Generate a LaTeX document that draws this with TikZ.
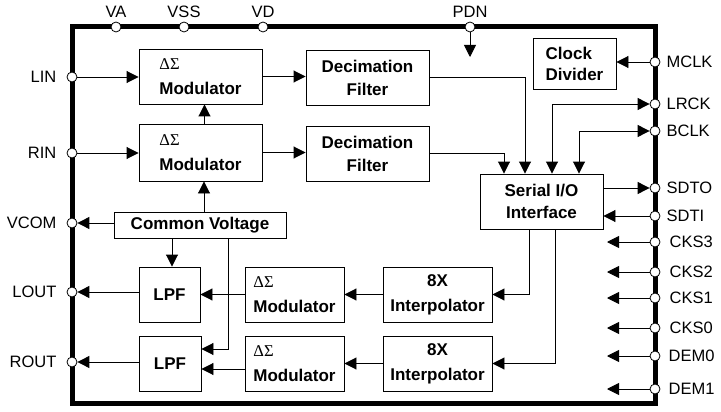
\documentclass[tikz,border=0pt]{standalone}
\usepackage{fontspec}
\setmainfont{Liberation Sans}
\newfontfamily\seriff{Liberation Serif}
\usetikzlibrary{arrows.meta}
\begin{document}
\begin{tikzpicture}[x=1pt,y=-1pt,
  box/.style={draw,line width=0.9pt,inner sep=0pt,align=center,font=\fontsize{17}{23}\selectfont\bfseries},
  modbox/.style={box,align=left,font=\fontsize{17}{25}\selectfont\bfseries},
  pinc/.style={circle,draw,fill=white,line width=0.8pt,minimum size=10pt,inner sep=0pt},
  plab/.style={font=\fontsize{16.5}{18}\selectfont,inner sep=0pt},
  arr/.style={line width=0.9pt,-{Triangle[length=12pt,width=12pt]}},
  dbl/.style={line width=0.9pt,{Triangle[length=12pt,width=12pt]}-{Triangle[length=12pt,width=12pt]}},
  wire/.style={line width=0.9pt}
]
\useasboundingbox (0,0) rectangle (721,412);
\newcommand{\ds}{{\seriff\mdseries\fontsize{16.5}{16}\selectfont ΔΣ}}
% outer frame
\draw[line width=5pt] (72,27) rectangle (655,403);
% boxes
\node[modbox,minimum width=123pt,minimum height=55pt] (Mod1) at (200.5,76.5) {\ds\\Modulator};
\node[modbox,minimum width=123pt,minimum height=57pt] (Mod2) at (200.5,152.5) {\ds\\Modulator};
\node[box,minimum width=123pt,minimum height=55pt] (Dec1) at (367.5,77.5) {Decimation\\Filter};
\node[box,minimum width=123pt,minimum height=55pt] (Dec2) at (367.5,153.5) {Decimation\\Filter};
\node[box,align=left,font=\fontsize{17}{21}\selectfont\bfseries,minimum width=83pt,minimum height=51pt] (Clk) at (574.5,63.5) {Clock\\Divider};
\node[box,font=\fontsize{17}{22}\selectfont\bfseries,minimum width=123pt,minimum height=55pt] (Ser) at (541.5,201.5) {Serial I/O\\Interface};
\node[box,minimum width=172pt,minimum height=26pt] (CV) at (200,225) {Common Voltage};
\node[box,minimum width=61pt,minimum height=55pt] (LPF1) at (169.5,294.5) {LPF};
\node[box,minimum width=62pt,minimum height=55pt] (LPF2) at (170,363.5) {LPF};
\node[modbox,minimum width=99pt,minimum height=55pt] (DM1) at (294.5,294.5) {\ds\\Modulator};
\node[modbox,minimum width=99pt,minimum height=55pt] (DM2) at (294.5,363.5) {\ds\\Modulator};
\node[box,font=\fontsize{17}{25}\selectfont\bfseries,minimum width=109pt,minimum height=55pt] (Int1) at (437.5,294.5) {8X\\Interpolator};
\node[box,font=\fontsize{17}{25}\selectfont\bfseries,minimum width=109pt,minimum height=55pt] (Int2) at (437.5,363.5) {8X\\Interpolator};
% pins top
\node[pinc,label={[plab,label distance=4pt]above:VA}] (pVA) at (116,27) {};
\node[pinc,label={[plab,label distance=4pt]above:VSS}] (pVSS) at (184,27) {};
\node[pinc,label={[plab,label distance=4pt]above:VD}] (pVD) at (263,27) {};
\node[pinc,label={[plab,label distance=4pt]above:PDN}] (pPDN) at (470,27) {};
% pins left
\node[pinc,label={[plab,label distance=10pt]left:LIN}] (pLIN) at (72,77) {};
\node[pinc,label={[plab,label distance=10pt]left:RIN}] (pRIN) at (72,153) {};
\node[pinc,label={[plab,label distance=10pt]left:VCOM}] (pVCOM) at (72,223) {};
\node[pinc,label={[plab,label distance=10pt]left:LOUT}] (pLOUT) at (72,292) {};
\node[pinc,label={[plab,label distance=10pt]left:ROUT}] (pROUT) at (72,362) {};
% pins right
\node[pinc,label={[plab,label distance=6pt]right:MCLK}] (pMCLK) at (655,62) {};
\node[pinc,label={[plab,label distance=6pt]right:LRCK}] (pLRCK) at (655,104) {};
\node[pinc,label={[plab,label distance=6pt]right:BCLK}] (pBCLK) at (655,131) {};
\node[pinc,label={[plab,label distance=6pt]right:SDTO}] (pSDTO) at (655,188) {};
\node[pinc,label={[plab,label distance=6pt]right:SDTI}] (pSDTI) at (655,216) {};
\node[pinc,label={[plab,label distance=9pt]right:CKS3}] (pCKS3) at (655,242) {};
\node[pinc,label={[plab,label distance=9pt]right:CKS2}] (pCKS2) at (655,272) {};
\node[pinc,label={[plab,label distance=9pt]right:CKS1}] (pCKS1) at (655,298) {};
\node[pinc,label={[plab,label distance=9pt]right:CKS0}] (pCKS0) at (655,328) {};
\node[pinc,label={[plab,label distance=8pt]right:DEM0}] (pDEM0) at (655,356) {};
\node[pinc,label={[plab,label distance=8pt]right:DEM1}] (pDEM1) at (655,389) {};
% free ends
\coordinate (cPDN) at (470,57);
\coordinate (cCKS3) at (607,242);
\coordinate (cCKS2) at (607,272);
\coordinate (cCKS1) at (607,298);
\coordinate (cCKS0) at (607,328);
\coordinate (cDEM0) at (607,356);
\coordinate (cDEM1) at (607,389);
% connectors
\draw[arr] (pLIN) -- (pLIN -| Mod1.west);
\draw[arr] (pRIN) -- (pRIN -| Mod2.west);
\draw[arr] (Mod1.east) -- (Mod1.east -| Dec1.west);
\draw[arr] (Mod2.east) -- (Mod2.east -| Dec2.west);
\draw[arr] ([xshift=4pt]Mod2.north) -- ([xshift=4pt]Mod2.north |- Mod1.south);
\draw[arr] ([xshift=4pt]CV.north) -- ([xshift=4pt]CV.north |- Mod2.south);
\draw[arr] (pVCOM -| CV.west) -- (pVCOM);
\draw[arr] ([xshift=-28pt]CV.south) -- ([xshift=-28pt]CV.south |- LPF1.north);
\draw[arr] ([xshift=28pt]CV.south) |- ([yshift=14.5pt]LPF2.east);
\draw[arr] (pLOUT -| LPF1.west) -- (pLOUT);
\draw[arr] (pROUT -| LPF2.west) -- (pROUT);
\draw[arr] (DM1.west) -- (DM1.west -| LPF1.east);
\draw[arr] ([yshift=-5.5pt]DM2.west) -- ([yshift=-5.5pt]DM2.west -| LPF2.east);
\draw[arr] (Int1.west) -- (Int1.west -| DM1.east);
\draw[arr] (Int2.west) -- (Int2.west -| DM2.east);
\draw[arr] ([xshift=-12.5pt]Ser.south) |- (Int1.east);
\draw[arr] ([xshift=13.5pt]Ser.south) |- (Int2.east);
\draw[arr] (Dec1.east) -| ([xshift=-16.5pt]Ser.north);
\draw[arr] (Dec2.east) -| ([xshift=-37.5pt]Ser.north);
\draw[dbl] ([xshift=10.5pt]Ser.north) |- (pLRCK);
\draw[dbl] ([xshift=37.5pt]Ser.north) |- (pBCLK);
\draw[arr] (pSDTO -| Ser.east) -- (pSDTO);
\draw[arr] (pSDTI) -- (pSDTI -| Ser.east);
\draw[arr] (pMCLK) -- (pMCLK -| Clk.east);
\draw[arr] (pPDN) -- (cPDN);
\draw[arr] (pCKS3) -- (cCKS3);
\draw[arr] (pCKS2) -- (cCKS2);
\draw[arr] (pCKS1) -- (cCKS1);
\draw[arr] (pCKS0) -- (cCKS0);
\draw[arr] (pDEM0) -- (cDEM0);
\draw[arr] (pDEM1) -- (cDEM1);
\end{tikzpicture}
\end{document}
